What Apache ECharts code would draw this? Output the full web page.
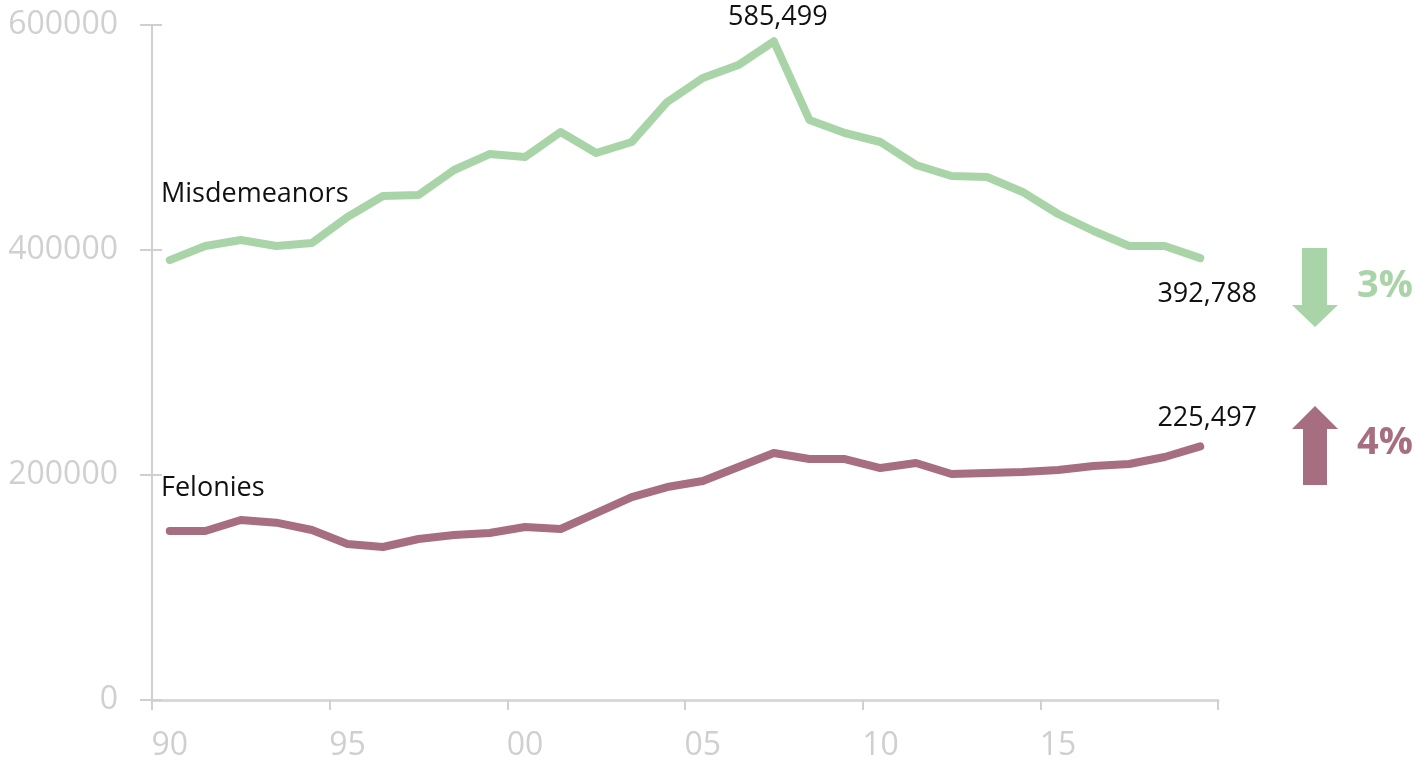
<!DOCTYPE html>
<html>
<head>
<meta charset="utf-8">
<script src="https://cdn.jsdelivr.net/npm/echarts@6/dist/echarts.min.js"></script>
<style>
html,body{margin:0;padding:0;background:#fff;}
#chart{width:1416px;height:768px;}
</style>
</head>
<body>
<div id="chart"></div>
<script>
// ---- data ----
const years = ['90','91','92','93','94','95','96','97','98','99','00','01','02','03','04','05','06','07','08','09','10','11','12','13','14','15','16','17','18','19'];
const misdemeanors = [391000,403600,408900,403600,406200,429300,448000,448900,471100,485300,482700,504900,486200,496000,531600,552900,564400,585499,515600,504000,496000,475600,465800,464900,451600,432000,416900,403600,403600,392788];
const felonies = [150200,150200,160000,157600,151100,138700,136000,143100,146700,148400,153800,152000,166200,180400,189300,194700,207100,219600,214200,214200,206200,210700,200900,201800,202700,204400,208000,209800,216000,225497];
const yTicks = [0,200000,400000,600000];
const seriesNames = ['Misdemeanors','Felonies'];
const changes = ['3%','4%'];

const GREEN = '#a8d4a7';
const MAROON = '#a66e80';
const FONT = '"Open Sans", "Noto Sans", sans-serif';

const fmt = v => v.toLocaleString('en-US');
const peakIdx = misdemeanors.indexOf(Math.max(...misdemeanors));
const last = years.length - 1;

const valueLabel = (pos, dist, off) => ({
  show: true, position: pos, distance: dist, offset: off,
  formatter: p => fmt(p.value), color: '#111', fontSize: 27, fontFamily: FONT
});

const misData = misdemeanors.map((v, i) => {
  if (i === peakIdx) return {value: v, label: valueLabel('top', 10, [4, 0])};
  if (i === last) return {value: v, label: valueLabel('bottom', 22, [7, 0])};
  return v;
});
const felData = felonies.map((v, i) => {
  if (i === last) return {value: v, label: valueLabel('top', 14, [7, 0])};
  return v;
});

const chart = echarts.init(document.getElementById('chart'));
chart.setOption({
  animation: false,
  grid: {left: 152, right: 198, top: 25, bottom: 68},
  xAxis: {
    type: 'category',
    data: years,
    boundaryGap: true,
    axisLine: {lineStyle: {color: '#d9d9d9', width: 3}},
    axisTick: {show: true, interval: 4, length: 10, lineStyle: {color: '#d0d0d0', width: 2}},
    axisLabel: {interval: 4, margin: 30, color: '#cfcfcf', fontSize: 32, fontFamily: FONT}
  },
  yAxis: [{
    type: 'value', min: 0, max: 600000, interval: 200000,
    axisLine: {show: true, lineStyle: {color: '#d0d0d0', width: 2}},
    axisTick: {show: true, length: 12, lineStyle: {color: '#d0d0d0', width: 2}},
    splitLine: {show: false},
    axisLabel: {margin: 34, color: '#d0d0d0', fontSize: 32, fontFamily: FONT, formatter: v => String(v)}
  }, {
    type: 'value', min: 0, max: 600000, interval: 200000, position: 'left',
    axisLine: {show: false},
    axisTick: {show: true, inside: true, length: 10, lineStyle: {color: '#d0d0d0', width: 2}},
    splitLine: {show: false},
    axisLabel: {show: false}
  }],
  series: [{
    name: seriesNames[0], type: 'line', data: misData, showSymbol: true, symbol: 'circle', symbolSize: 1,
    lineStyle: {color: GREEN, width: 8, cap: 'round', join: 'round'},
    itemStyle: {color: GREEN}
  }, {
    name: seriesNames[1], type: 'line', data: felData, showSymbol: true, symbol: 'circle', symbolSize: 1,
    lineStyle: {color: MAROON, width: 8, cap: 'round', join: 'round'},
    itemStyle: {color: MAROON}
  }],
  graphic: [
    {type: 'text', left: 161, top: 181, style: {text: seriesNames[0], fill: '#111', font: '27px ' + FONT}},
    {type: 'text', left: 161, top: 475, style: {text: seriesNames[1], fill: '#111', font: '27px ' + FONT}},
    {type: 'polygon', shape: {points: [[1302,248],[1327,248],[1327,305],[1338,305],[1315,327],[1292,305],[1302,305]]}, style: {fill: GREEN}},
    {type: 'polygon', shape: {points: [[1315,406],[1338,429],[1327,429],[1327,485],[1303,485],[1303,429],[1292,429]]}, style: {fill: MAROON}},
    {type: 'text', left: 1357, top: 267, style: {text: changes[0], fill: GREEN, font: 'bold 38px ' + FONT}},
    {type: 'text', left: 1357, top: 424, style: {text: changes[1], fill: MAROON, font: 'bold 38px ' + FONT}}
  ]
});
</script>
</body>
</html>
